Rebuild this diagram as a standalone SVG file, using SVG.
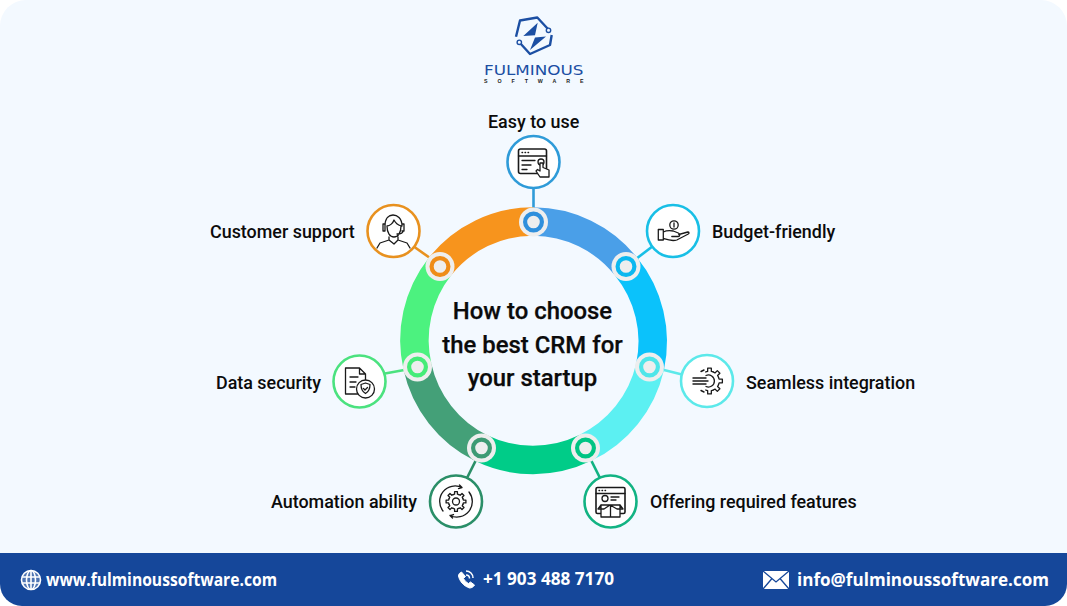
<svg xmlns="http://www.w3.org/2000/svg" xmlns:xlink="http://www.w3.org/1999/xlink" width="1067" height="606" viewBox="0 0 1067 606">
<style>
.lbl{font-family:Roboto,"Liberation Sans",sans-serif;font-weight:500;font-size:17.9px;fill:#0b0b0b}
.ttl{font-family:Roboto,"Liberation Sans",sans-serif;font-weight:500;font-size:23.9px;fill:#0b0b0b;text-anchor:middle;stroke:#0b0b0b;stroke-width:.25}
.ftr{font-family:"Open Sans","Liberation Sans",sans-serif;font-weight:700;font-size:17.5px;fill:#fff}
.ring{fill:none;stroke-width:28.5}
.nc{fill:#fff;stroke-width:2.6}
.ic{fill:none;stroke:#1a1a1a;stroke-width:1.3;stroke-linecap:round;stroke-linejoin:round}
.thin{stroke-width:1}
.conn{fill:none;stroke-width:2.6}
.halo{fill:#eeeeee}
.dot{fill:none;stroke-width:4.2}
</style>
<defs>
<path id="tooth" d="M-2.870 -6.930L-1.430 -7.360L-1.390 -9.900L1.390 -9.900L1.430 -7.360L2.870 -6.930"/>
</defs>
<rect width="1067" height="606" fill="#fff"/>
<rect width="1067" height="606" rx="26" fill="#f3f9ff"/>
<g id="logo">
<path d="M548 29L537.300 17.500L520 20.500L516 36.700M520 43L530 54L550 45L551.700 35" fill="none" stroke="#1c4fa3" stroke-width="2.400" stroke-linejoin="round"/>
<circle cx="548.500" cy="30.300" r="2.200" fill="#f3f9ff" stroke="#1c4fa3" stroke-width="1.400"/>
<circle cx="519.300" cy="42.300" r="2.200" fill="#f3f9ff" stroke="#1c4fa3" stroke-width="1.400"/>
<path d="M537.700 22.700L523.300 36L535 35.300ZM530 50L546 36.500L535 37.500Z" fill="#1c4fa3"/>
<text x="484" y="75" textLength="99.500" lengthAdjust="spacingAndGlyphs" style="font-family:'DejaVu Sans',sans-serif;font-size:13.800px;fill:#1c4fa3">FULMINOUS</text>
<text x="484" y="82.500" textLength="99.500" style="font-family:'Liberation Sans',sans-serif;font-size:5.300px;font-weight:700;fill:#222">SOFTWARE</text>
</g>
<g id="connectors">
<path class="conn" stroke="#2f9bd8" d="M533.500 186V212"/>
<path class="conn" stroke="#18bfe6" d="M653 246L632 262"/>
<path class="conn" stroke="#5ce9ea" d="M682 374.500L660 369"/>
<path class="conn" stroke="#12b383" d="M600 478L590 458"/>
<path class="conn" stroke="#2b8f68" d="M467 478L477 458"/>
<path class="conn" stroke="#4be27f" d="M385 373.500L407 369.500"/>
<path class="conn" stroke="#e8911f" d="M413 246L430 258"/>
</g>
<g id="ring">
<path class="ring" stroke="#4a9fe8" d="M533.500 221.500A119 119 0 0 1 626 266.500"/>
<path class="ring" stroke="#0bc2fb" d="M626 266.500A119 119 0 0 1 650 367"/>
<path class="ring" stroke="#5cf0f2" d="M650 367A119 119 0 0 1 585 448"/>
<path class="ring" stroke="#00cc88" d="M585 448A119 119 0 0 1 481 448"/>
<path class="ring" stroke="#44a078" d="M481 448A119 119 0 0 1 417.500 367"/>
<path class="ring" stroke="#4cf27f" d="M417.500 367A119 119 0 0 1 440 266.500"/>
<path class="ring" stroke="#f7941d" d="M440 266.500A119 119 0 0 1 533.500 221.500"/>
</g>
<g id="ring-dots">
<g><circle class="halo" cx="533.500" cy="222" r="14.500"/><circle class="dot" stroke="#2f8fdc" cx="533.500" cy="222" r="8.400"/></g>
<g><circle class="halo" cx="626" cy="266.500" r="14.500"/><circle class="dot" stroke="#0bb8f0" cx="626" cy="266.500" r="8.400"/></g>
<g><circle class="halo" cx="649.500" cy="367" r="14.500"/><circle class="dot" stroke="#4fe6e9" cx="649.500" cy="367" r="8.400"/></g>
<g><circle class="halo" cx="585.500" cy="448" r="14.500"/><circle class="dot" stroke="#00c483" cx="585.500" cy="448" r="8.400"/></g>
<g><circle class="halo" cx="481.500" cy="448" r="14.500"/><circle class="dot" stroke="#3d9a73" cx="481.500" cy="448" r="8.400"/></g>
<g><circle class="halo" cx="417.500" cy="367" r="14.500"/><circle class="dot" stroke="#45ec78" cx="417.500" cy="367" r="8.400"/></g>
<g><circle class="halo" cx="440" cy="266.500" r="14.500"/><circle class="dot" stroke="#ef8c17" cx="440" cy="266.500" r="8.400"/></g>
</g>
<g id="center-title">
<text class="ttl" x="532.500" y="318.500">How to choose</text>
<text class="ttl" x="532.500" y="352.500">the best CRM for</text>
<text class="ttl" x="532.500" y="386">your startup</text>
</g>
<g id="node-easy">
<text class="lbl" x="488" y="128">Easy to use</text>
<circle class="nc" stroke="#2f9bd8" cx="533.500" cy="162" r="26"/>
<g class="ic"><rect x="518.500" y="149" width="28" height="24.500" rx="2" stroke-width="1.600"/><path d="M518.500 156H546.500M522 152.500h.6M525 152.500h.6M528 152.500h.6M522 160.500h13M522 165h9M522 169.500h5"/><circle cx="541" cy="162" r="3"/><path d="M540 163V171L537.500 169.500L536 171L540 177H549V170L543 167.500V163Z" fill="#fff"/></g>
</g>
<g id="node-budget">
<text class="lbl" x="712" y="238">Budget-friendly</text>
<circle class="nc" stroke="#18bfe6" cx="673" cy="231" r="26"/>
<g class="ic"><circle cx="674" cy="225" r="4.200"/><path d="M674 223v4"/><path d="M658.300 229.500h5v10.500h-5zM663.300 232c4-2 7-1.500 10-1l5 2c2 1 2 3 0 3.500h-6.500M678.800 234.500l9-2.500c1.500 0 1.500 1.500.5 2l-11.500 6c-5 1.500-9 0-13.500-1.500"/></g>
</g>
<g id="node-seamless">
<text class="lbl" x="746" y="389">Seamless integration</text>
<circle class="nc" stroke="#5ce9ea" cx="707" cy="381" r="26"/>
<g class="ic"><g transform="translate(709.500 381) scale(1.300)" stroke-width="1"><use xlink:href="#tooth" href="#tooth" transform="rotate(0)"/><use xlink:href="#tooth" href="#tooth" transform="rotate(45)"/><use xlink:href="#tooth" href="#tooth" transform="rotate(90)"/><use xlink:href="#tooth" href="#tooth" transform="rotate(135)"/><use xlink:href="#tooth" href="#tooth" transform="rotate(180)"/></g><path d="M706 375.500a6 6 0 1 1 0 11"/><path d="M693 378h13M693 381h15M693 384h13M701 371.500l3-1.500M701 390.500l3 1.500" stroke-width="1.400"/></g>
</g>
<g id="node-features">
<text class="lbl" x="650" y="508">Offering required features</text>
<circle class="nc" stroke="#12b383" cx="610.500" cy="501.500" r="26"/>
<g class="ic"><rect x="596" y="487.500" width="29" height="26" rx="1.500" stroke-width="1.600"/><path d="M596 493.500H625M599 490.500h.6M602 490.500h.6M605 490.500h.6"/><circle cx="605" cy="498.500" r="3"/><path d="M611 497h8M611 500h5"/><path d="M601 505h19v12h-19zM601 505l-3 4h6l6-4M620 505l3 4h-6l-7-4M610.500 505v12" fill="#fff"/></g>
</g>
<g id="node-automation">
<text class="lbl" x="271" y="508">Automation ability</text>
<circle class="nc" stroke="#2b8f68" cx="456" cy="501.500" r="26"/>
<g class="ic"><g transform="translate(456 501.500)"><use xlink:href="#tooth" href="#tooth"/><use xlink:href="#tooth" href="#tooth" transform="rotate(45)"/><use xlink:href="#tooth" href="#tooth" transform="rotate(90)"/><use xlink:href="#tooth" href="#tooth" transform="rotate(135)"/><use xlink:href="#tooth" href="#tooth" transform="rotate(180)"/><use xlink:href="#tooth" href="#tooth" transform="rotate(225)"/><use xlink:href="#tooth" href="#tooth" transform="rotate(270)"/><use xlink:href="#tooth" href="#tooth" transform="rotate(315)"/></g><circle cx="456" cy="501.500" r="3.500"/><path d="M443 511a15.500 15.500 0 0 1 19-23.500M462 487.500l-2.500-2.500M462 487.500l-3.500 1M469 492a15.500 15.500 0 0 1-19 23.500M450 515.500l2.500 2.500M450 515.500l3.500-1"/></g>
</g>
<g id="node-security">
<text class="lbl" x="216" y="389">Data security</text>
<circle class="nc" stroke="#4be27f" cx="359.500" cy="381.500" r="26"/>
<g class="ic"><path d="M345.500 368h14l6 6v10M365.500 374h-6v-6M345.500 368v26h12"/><path d="M350 377h8M350 382h6M350 387h5"/><circle cx="365.500" cy="389" r="9" fill="#fff"/><path d="M365.500 383l4.500 1.500c0 4-1 7-4.500 9-3.500-2-4.500-5-4.500-9zM363.500 388.500l1.500 1.500 2.500-2.500"/></g>
</g>
<g id="node-support">
<text class="lbl" x="210" y="238">Customer support</text>
<circle class="nc" stroke="#e8911f" cx="393.500" cy="231" r="26"/>
<g class="ic"><path d="M385 226c0-8 4-11 8-11s9 3 9 11M383 224h2v7h-2zM402 224h2v7h-2M387 226c3 0 6-3 7-6 1 2 4 5 7 6M387 226c0 7 3 11 7 11s7-4 7-11M403 231c0 2-3 3-6 3M389 237v3l-9 3-3 5M398 237v3l9 3 3 5M389 240l5 4 4-4"/></g>
</g>
<g id="footer">
<path d="M0 553H1067V584A22 22 0 0 1 1045 606H22A22 22 0 0 1 0 584Z" fill="#15479a"/>
<g fill="none" stroke="#fff" stroke-width="1.600"><circle cx="31" cy="580" r="9.500" fill="#fff" fill-opacity=".25"/><ellipse cx="31" cy="580" rx="4.500" ry="9.500"/><path d="M31 570.500V589.500M22 577H40M22 583H40"/></g>
<text class="ftr" x="46" y="586" textLength="231" lengthAdjust="spacingAndGlyphs">www.fulminoussoftware.com</text>
<path d="M461.500 572c-2 1-3 2-3 4 1 5 5 10 11 12 2 0 4-1 5-3l-4-3-2 1.500c-2-1-4-3-5-5l2-2Z" fill="#fff" stroke="#fff" stroke-width="1"/>
<path d="M466 571c4 0 7 3 7 7M466 575c2 0 3.500 1.500 3.500 3.500" fill="none" stroke="#fff" stroke-width="1.500"/>
<text class="ftr" x="483" y="585" textLength="131" lengthAdjust="spacingAndGlyphs">+1 903 488 7170</text>
<rect x="763" y="571" width="26" height="18" fill="#fff"/>
<path d="M763 571L776 582L789 571M763 589L772 578.500M789 589L780 578.500" fill="none" stroke="#15479a" stroke-width="1.300"/>
<text class="ftr" x="797" y="586" textLength="252" lengthAdjust="spacingAndGlyphs">info@fulminoussoftware.com</text>
</g>
</svg>
